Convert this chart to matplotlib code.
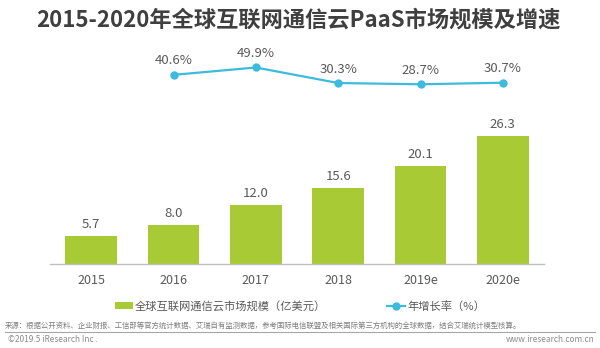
import matplotlib
matplotlib.use("Agg")
import matplotlib.pyplot as plt
from matplotlib.lines import Line2D
from matplotlib.patches import Patch

plt.rcParams['font.family'] = ['Noto Sans CJK SC', 'DejaVu Sans']

# ---- data ----
categories = ['2015', '2016', '2017', '2018', '2019e', '2020e']
market_size = [5.7, 8.0, 12.0, 15.6, 20.1, 26.3]          # 亿美元
growth_years = ['2016', '2017', '2018', '2019e', '2020e']
growth_rate = [40.6, 49.9, 30.3, 28.7, 30.7]              # %

title = '2015-2020年全球互联网通信云PaaS市场规模及增速'
legend_bar = '全球互联网通信云市场规模（亿美元）'
legend_line = '年增长率（%）'
source = ('来源：根据公开资料、企业财报、工信部等官方统计数据、艾瑞自有监测数据，'
          '参考国际电信联盟及相关国际第三方机构的全球数据，结合艾瑞统计模型核算。')
copyright_txt = '©2019.5 iResearch Inc .'
site_txt = 'www.iresearch.com.cn'

GREEN = '#a8ca35'
BLUE = '#3dbbdd'
TXT = '#595959'

W, H = 600, 348
fig = plt.figure(figsize=(W / 100, H / 100), dpi=100)

# main axes (pixel layout)
left, right, top, bottom = 50, 544, 45, 264
ax = fig.add_axes([left / W, (H - bottom) / H, (right - left) / W, (bottom - top) / H])
x = list(range(len(categories)))
ax.bar(x, market_size, width=0.63, color=GREEN, zorder=2)
ax.set_xlim(-0.5, len(categories) - 0.5)
ax.set_ylim(0, 44.9)
ax.set_xticks(x)
ax.set_xticklabels(categories, fontsize=9, color=TXT)
ax.tick_params(axis='x', length=0, pad=7)
ax.set_yticks([])
for s in ['top', 'right', 'left']:
    ax.spines[s].set_visible(False)
ax.spines['bottom'].set_color('#bfbfbf')
ax.spines['bottom'].set_linewidth(1.0)
ax.patch.set_alpha(0)

for xi, v in zip(x, market_size):
    ax.annotate(f'{v:.1f}', (xi, v), xytext=(0, 5), textcoords='offset pixels',
                ha='center', va='bottom', fontsize=9.5, color=TXT)

# line on twin axes
ax2 = ax.twinx()
ax2.set_ylim(-198.2, 78.3)
gx = [categories.index(c) for c in growth_years]
ax2.plot(gx, growth_rate, color=BLUE, lw=1.6, marker='o', ms=5, zorder=3)
for xi, v in zip(gx, growth_rate):
    ax2.annotate(f'{v:.1f}%', (xi, v), xytext=(0, 14), textcoords='offset pixels',
                 ha='center', va='center', fontsize=9.5, color=TXT)
ax2.set_yticks([])
for s in ['top', 'right', 'left', 'bottom']:
    ax2.spines[s].set_visible(False)

# title
fig.text(298 / W, 1 - 20 / H, title, ha='center', va='center', fontsize=16,
         fontweight='bold', color='#3f3f3f')

# legend
handles = [Patch(facecolor=GREEN, edgecolor='none'),
           Line2D([0], [0], color=BLUE, lw=1.6, marker='o', ms=5)]
fig.legend(handles, [legend_bar, legend_line], ncol=2, loc='center',
           bbox_to_anchor=(300 / W, 1 - 306 / H), frameon=False,
           prop={'size': 8.1}, labelcolor=TXT, handlelength=1.6,
           handleheight=0.55, handletextpad=0.2, columnspacing=5.4)

# footer
fig.text(5 / W, 1 - 326 / H, source, ha='left', va='center', fontsize=5.35, color='#7f7f7f')
fig.add_artist(Line2D([5 / W, 595 / W], [1 - 331.5 / H, 1 - 331.5 / H],
                      color='#a6a6a6', lw=0.8, transform=fig.transFigure))
fig.text(8 / W, 1 - 340 / H, copyright_txt, ha='left', va='center', fontsize=6, color='#8c8c8c')
fig.text(595 / W, 1 - 340 / H, site_txt, ha='right', va='center', fontsize=6, color='#8c8c8c')

fig.savefig('out.png', dpi=100, facecolor='white')
